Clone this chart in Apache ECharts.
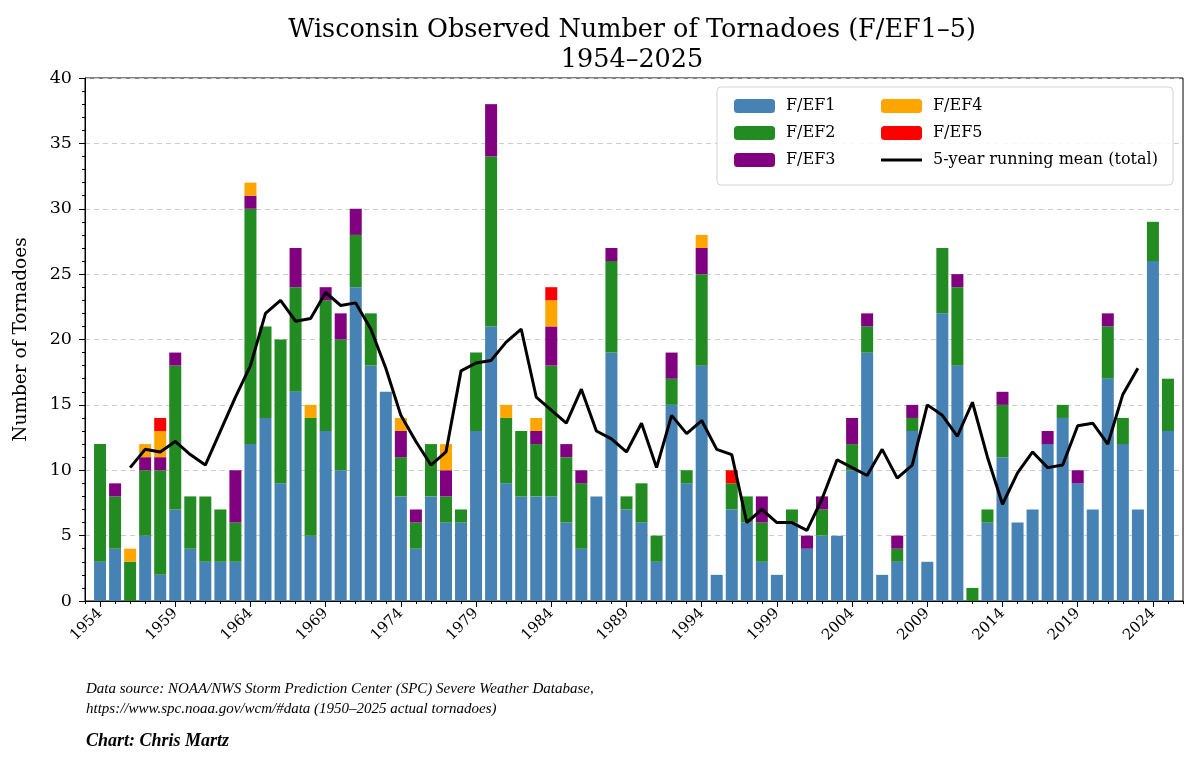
<!DOCTYPE html>
<html>
<head>
<meta charset="utf-8">
<script src="https://cdn.jsdelivr.net/npm/echarts@6/dist/echarts.min.js"></script>
<style>
html,body{margin:0;padding:0;background:#fff;}
#chart{width:1199px;height:765px;}
</style>
</head>
<body>
<div id="chart"></div>
<script>
// ---- Data ----
const years = [];
for (let y = 1954; y <= 2025; y++) years.push(y);

const ef1 = [3,4,0,5,2,7,4,3,3,3,12,14,9,16,5,13,10,24,18,16,8,4,8,6,6,13,21,9,8,8,8,6,4,8,19,7,6,3,15,9,18,2,7,6,3,2,6,4,5,5,10,19,2,3,13,3,22,18,0,6,11,6,7,12,14,9,7,17,12,7,26,13];
const ef2 = [9,4,3,5,8,11,4,5,4,3,18,7,11,8,9,10,10,4,4,0,3,2,4,2,1,6,13,5,5,4,10,5,5,0,7,1,3,2,2,1,7,0,2,2,3,0,1,0,2,0,2,2,0,1,1,0,5,6,1,1,4,0,0,0,1,0,0,4,2,0,3,4];
const ef3 = [0,1,0,1,1,1,0,0,0,4,1,0,0,3,0,1,2,2,0,0,2,1,0,2,0,0,4,0,0,1,3,1,1,0,1,0,0,0,2,0,2,0,0,0,2,0,0,1,1,0,2,1,0,1,1,0,0,1,0,0,1,0,0,1,0,1,0,1,0,0,0,0];
const ef4 = [0,0,1,1,2,0,0,0,0,0,1,0,0,0,1,0,0,0,0,0,1,0,0,2,0,0,0,1,0,1,2,0,0,0,0,0,0,0,0,0,1,0,0,0,0,0,0,0,0,0,0,0,0,0,0,0,0,0,0,0,0,0,0,0,0,0,0,0,0,0,0,0];
const ef5 = [0,0,0,0,1,0,0,0,0,0,0,0,0,0,0,0,0,0,0,0,0,0,0,0,0,0,0,0,0,0,1,0,0,0,0,0,0,0,0,0,0,0,1,0,0,0,0,0,0,0,0,0,0,0,0,0,0,0,0,0,0,0,0,0,0,0,0,0,0,0,0,0];

// 5-year running mean (centered), 1956-2023
const meanYears = [];
for (let y = 1956; y <= 2023; y++) meanYears.push(y);
const meanVals = [10.2,11.6,11.4,12.2,11.2,10.4,13.0,15.6,18.0,22.0,23.0,21.4,21.6,23.6,22.6,22.8,20.8,17.8,14.2,12.2,10.4,11.4,17.6,18.2,18.4,19.8,20.8,15.6,14.6,13.6,16.2,13.0,12.4,11.4,13.6,10.2,14.2,12.8,13.8,11.6,11.2,6.0,7.0,6.0,6.0,5.4,7.8,10.8,10.2,9.6,11.6,9.4,10.4,15.0,14.2,12.6,15.2,11.0,7.4,9.8,11.4,10.2,10.4,13.4,13.6,12.0,15.8,17.8];

const majorTicks = [1954,1959,1964,1969,1974,1979,1984,1989,1994,1999,2004,2009,2014,2019,2024];
const seriesNames = ['F/EF1','F/EF2','F/EF3','F/EF4','F/EF5'];
const seriesColors = ['#4682b4','#228b22','#800080','#ffa500','#ff0000'];
const meanName = '5-year running mean (total)';

// ---- Chart ----
const SERIF = '"DejaVu Serif", "Liberation Serif", serif';
const chart = echarts.init(document.getElementById('chart'), null, {renderer: 'canvas'});

const layers = [ef1, ef2, ef3, ef4, ef5];
// data items are [count, year]; encode maps count -> y, year -> x, so the
// stacked dimension is the count (first numeric dimension)
const barSeries = layers.map((arr, i) => ({
  name: seriesNames[i],
  type: 'bar',
  stack: 'total',
  xAxisIndex: 0,
  yAxisIndex: 0,
  barWidth: 12,
  encode: {x: 1, y: 0},
  dimensions: ['count', 'year'],
  data: years.map((y, k) => [arr[k], y]),
  itemStyle: {color: seriesColors[i], borderWidth: 0},
  emphasis: {disabled: true},
  z: 2
}));

const option = {
  backgroundColor: '#ffffff',
  animation: false,
  title: {
    text: 'Wisconsin Observed Number of Tornadoes (F/EF1–5)\n1954–2025',
    left: 627,
    top: 10,
    textAlign: 'center',
    textStyle: {fontFamily: SERIF, fontSize: 25.5, fontWeight: 'normal', color: '#000', lineHeight: 30}
  },
  grid: {left: 85, top: 78, width: 1098, height: 523, show: true, borderColor: '#000', borderWidth: 1, backgroundColor: 'transparent', containLabel: false},
  legend: [
    {
      data: seriesNames.slice(0, 3),
      orient: 'vertical', left: 729, top: 92, itemWidth: 41, itemHeight: 14, itemGap: 9,
      textStyle: {fontFamily: SERIF, fontSize: 16, color: '#000', lineHeight: 18, padding: [0,0,0,6]},
      selectedMode: false, z: 60
    },
    {
      data: ['F/EF4', 'F/EF5', {name: meanName, icon: 'path://M0,0 L40,0 L40,3 L0,3 Z'}],
      orient: 'vertical', left: 876, top: 92, itemWidth: 41, itemHeight: 14, itemGap: 9,
      symbolKeepAspect: true,
      textStyle: {fontFamily: SERIF, fontSize: 16, color: '#000', lineHeight: 18, padding: [0,0,0,6]},
      selectedMode: false, z: 60
    }
  ],
  xAxis: [
    {
      type: 'value', min: 1953, max: 2026, gridIndex: 0,
      axisLine: {show: true, onZero: false, lineStyle: {color: '#000', width: 1}},
      axisTick: {show: true, length: 6, inside: false, customValues: majorTicks, lineStyle: {color: '#000'}},
      axisLabel: {show: true, customValues: majorTicks, rotate: 45, margin: 10, fontFamily: SERIF, fontSize: 15, color: '#000', formatter: v => String(v)},
      splitLine: {show: false}
    },
    {
      type: 'value', min: 1953, max: 2026, interval: 1, gridIndex: 0, position: 'bottom',
      axisLine: {show: false},
      axisTick: {show: true, length: 3, lineStyle: {color: '#000'}},
      axisLabel: {show: false},
      splitLine: {show: false}
    }
  ],
  yAxis: {
    type: 'value', min: 0, max: 40, interval: 5,
    name: 'Number of Tornadoes', nameLocation: 'middle', nameGap: 54, nameRotate: 90,
    nameTextStyle: {fontFamily: SERIF, fontSize: 18.5, color: '#000'},
    axisLine: {show: true, lineStyle: {color: '#000'}},
    axisTick: {show: true, length: 6, lineStyle: {color: '#000'}},
    minorTick: {show: true, splitNumber: 5, length: 3, lineStyle: {color: '#000'}},
    axisLabel: {fontFamily: SERIF, fontSize: 17.5, color: '#000', margin: 13},
    splitLine: {show: true, lineStyle: {color: '#cccccc', type: [5, 4], width: 1}}
  },
  series: barSeries.concat([{
    name: meanName,
    type: 'line',
    xAxisIndex: 0,
    data: meanYears.map((y, i) => [y, meanVals[i]]),
    symbol: 'none',
    lineStyle: {color: '#000', width: 3},
    itemStyle: {color: '#000'},
    emphasis: {disabled: true},
    z: 5
  }]),
  graphic: [
    {type: 'rect', shape: {x: 717, y: 87, width: 456, height: 98, r: 4}, style: {fill: 'rgba(255,255,255,0.85)', stroke: '#d4d4d4', lineWidth: 1}, z: 50},
    {type: 'text', left: 86, top: 682, style: {text: 'Data source: NOAA/NWS Storm Prediction Center (SPC) Severe Weather Database,', font: 'italic 15px "Liberation Serif", serif', fill: '#000'}},
    {type: 'text', left: 86, top: 702, style: {text: 'https://www.spc.noaa.gov/wcm/#data (1950–2025 actual tornadoes)', font: 'italic 15px "Liberation Serif", serif', fill: '#000'}},
    {type: 'text', left: 86, top: 732, style: {text: 'Chart: Chris Martz', font: 'italic bold 18px "Liberation Serif", serif', fill: '#000'}}
  ]
};

chart.setOption(option);
</script>
</body>
</html>
